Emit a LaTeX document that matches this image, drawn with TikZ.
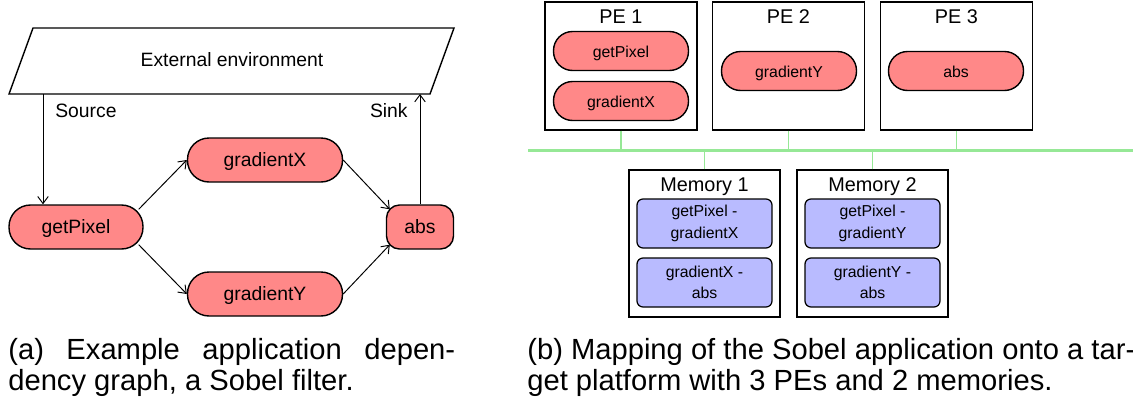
\documentclass[tikz,border=0pt]{standalone}
\usepackage{fontspec}
\setmainfont{Liberation Sans}
\usetikzlibrary{arrows.meta, positioning}
\definecolor{taskred}{RGB}{255,136,136}
\definecolor{bufblue}{RGB}{185,187,255}
\definecolor{busgreen}{RGB}{150,232,150}

\begin{document}
\begin{tikzpicture}[x=0.02cm, y=-0.02cm, >={Straight Barb[length=4pt,width=6pt]},
    task/.style={draw, line width=0.8pt, fill=taskred, inner sep=0pt, text height=0.72em, text depth=0pt},
    lefttask/.style={task, minimum height=0.88cm, rounded corners=0.43cm, font=\fontsize{11}{13}\selectfont},
    pertask/.style={task, minimum width=2.7cm, minimum height=0.78cm, rounded corners=0.38cm, font=\fontsize{9}{10}\selectfont},
    pebox/.style={draw, line width=0.7pt, minimum width=3.04cm, minimum height=2.56cm, inner sep=0pt},
    membox/.style={draw, line width=0.7pt, minimum width=3.02cm, minimum height=2.94cm, inner sep=0pt},
    boxtitle/.style={anchor=base, inner sep=0pt, font=\fontsize{11.3}{13}\selectfont},
    buf/.style={draw, line width=0.7pt, fill=bufblue, rounded corners=0.12cm, minimum width=2.7cm, minimum height=0.98cm, inner sep=0pt, align=center, font=\fontsize{9}{12.3}\selectfont},
    bus/.style={busgreen, line width=1.7pt},
    busdrop/.style={busgreen, line width=1.1pt},
    caption/.style={anchor=base west, inner sep=0pt, font=\fontsize{16.6}{18}\selectfont}]
    \useasboundingbox (0,0) rectangle (1133,400);

    % (a) dependency graph
    \draw[line width=0.8pt] (9,94) -- (33,28) -- (454,28) -- (430,94) -- cycle;
    \node[anchor=base, inner sep=0pt, font=\fontsize{11}{13}\selectfont] (env) at (232,66) {External environment};
    \node[lefttask, minimum width=2.68cm] (getpixel) at (76,227) {getPixel};
    \node[lefttask, minimum width=3.1cm] (gradx) at (265,160) {gradientX};
    \node[lefttask, minimum width=3.1cm] (grady) at (265,294) {gradientY};
    \node[lefttask, minimum width=1.34cm, rounded corners=0.26cm] (abs) at (420,227) {abs};
    \coordinate (src) at (43,94);
    \coordinate (snk) at (421,94);
    \draw[->, line width=0.55pt] (src) -- (src |- getpixel.north);
    \draw[->, line width=0.55pt] (abs.north) -- (abs.north |- snk);
    \node[anchor=base west, inner sep=0pt, font=\fontsize{11}{13}\selectfont] (srclbl) at (55,117) {Source};
    \node[anchor=base east, inner sep=0pt, font=\fontsize{11}{13}\selectfont] (snklbl) at (408,117) {Sink};
    \draw[->, line width=0.55pt] ([shift={(-5,5)}]getpixel.north east) -- (gradx.west);
    \draw[->, line width=0.55pt] ([shift={(-5,-5)}]getpixel.south east) -- (grady.west);
    \draw[->, line width=0.55pt] (gradx.east) -- ([shift={(4,5)}]abs.north west);
    \draw[->, line width=0.55pt] (grady.east) -- ([shift={(4,-5)}]abs.south west);

    % (b) platform mapping
    \node[pebox] (pe1) at (621,66) {};
    \node[pebox] (pe2) at (788.5,66) {};
    \node[pebox] (pe3) at (956.5,66) {};
    \node[boxtitle] (pe1t) at (621,23) {PE 1};
    \node[boxtitle] (pe2t) at (788.5,23) {PE 2};
    \node[boxtitle] (pe3t) at (956.5,23) {PE 3};
    \node[pertask] (pgetpixel) at (621,51) {getPixel};
    \node[pertask] (pgradx) at (621,101) {gradientX};
    \node[pertask] (pgrady) at (789,71) {gradientY};
    \node[pertask] (pabs) at (956,71) {abs};

    \node[membox] (mem1) at (704.5,243.5) {};
    \node[membox] (mem2) at (872.5,243.5) {};
    \node[boxtitle] (mem1t) at (704.5,191) {Memory 1};
    \node[boxtitle] (mem2t) at (872.5,191) {Memory 2};
    \node[buf] (m1a) at (704.5,223.5) {getPixel -\\gradientX};
    \node[buf] (m1b) at (704.5,282.5) {gradientX -\\abs};
    \node[buf] (m2a) at (872.5,223.5) {getPixel -\\gradientY};
    \node[buf] (m2b) at (872.5,282.5) {gradientY -\\abs};

    \coordinate (busl) at (528,150);
    \coordinate (busr) at (1140,150);
    \draw[busdrop] (pe1.south) -- (pe1.south |- busl);
    \draw[busdrop] (pe2.south) -- (pe2.south |- busl);
    \draw[busdrop] (pe3.south) -- (pe3.south |- busl);
    \draw[busdrop] (mem1.north) -- (mem1.north |- busl);
    \draw[busdrop] (mem2.north) -- (mem2.north |- busl);
    \draw[bus] (busl) -- (busr);

    % captions
    \node[caption] (capa1) at (8,359) {\makebox[8.94cm][s]{(a) Example application depen-}};
    \node[caption] (capa2) at (8,390) {dency graph, a Sobel filter.};
    \node[caption] (capb1) at (527,359) {(b) Mapping of the Sobel application onto a tar-};
    \node[caption] (capb2) at (527,390) {get platform with 3 PEs and 2 memories.};
\end{tikzpicture}
\end{document}
